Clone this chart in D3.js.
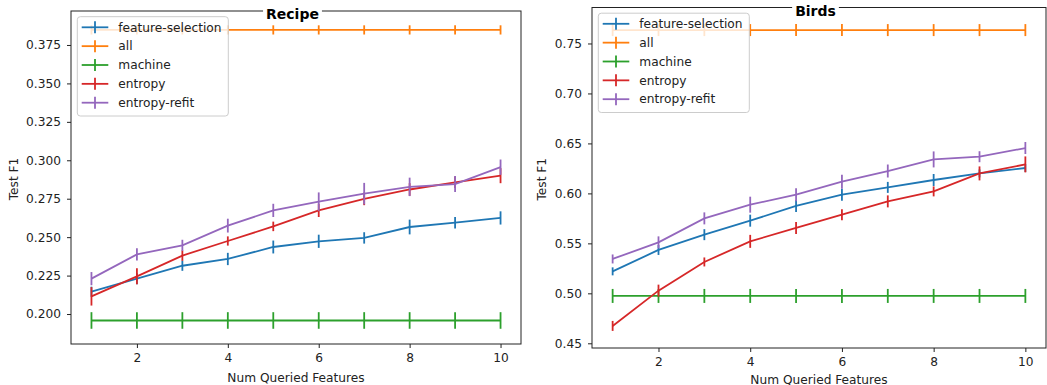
<html>
<body style="margin:0;background:#fff">
<meta charset="utf-8">
<script src="https://d3js.org/d3.v7.min.js"></script>
<div id="chart"></div>
<script>
// x values shared by both panels
var queried = [1, 2, 3, 4, 5, 6, 7, 8, 9, 10];
var seriesNames = ["feature-selection", "all", "machine", "entropy", "entropy-refit"];
var colors = ["#1f77b4", "#ff7f0e", "#2ca02c", "#d62728", "#9467bd"];

// Recipe panel
var recipeFeatSel    = [0.2145, 0.2230, 0.2314, 0.2358, 0.2436, 0.2473, 0.2495, 0.2566, 0.2594, 0.2625];
var recipeFeatSelErr = [0.0033, 0.0036, 0.0033, 0.0040, 0.0042, 0.0043, 0.0037, 0.0048, 0.0037, 0.0043];
var recipeAll        = [0.3848, 0.3848, 0.3848, 0.3848, 0.3848, 0.3848, 0.3848, 0.3848, 0.3848, 0.3848];
var recipeAllErr     = [0.003, 0.003, 0.003, 0.003, 0.003, 0.003, 0.003, 0.003, 0.003, 0.003];
var recipeMachine    = [0.1958, 0.1958, 0.1958, 0.1958, 0.1958, 0.1958, 0.1958, 0.1958, 0.1958, 0.1958];
var recipeMachineErr = [0.0054, 0.0054, 0.0054, 0.0054, 0.0054, 0.0054, 0.0054, 0.0054, 0.0054, 0.0054];
var recipeEntropy    = [0.2115, 0.2245, 0.2380, 0.2475, 0.2570, 0.2674, 0.2749, 0.2810, 0.2857, 0.2900];
var recipeEntropyErr = [0.0060, 0.0052, 0.0034, 0.0030, 0.0031, 0.0043, 0.0041, 0.0041, 0.0038, 0.0049];
var recipeRefit      = [0.2230, 0.2388, 0.2447, 0.2575, 0.2674, 0.2731, 0.2783, 0.2827, 0.2845, 0.2955];
var recipeRefitErr   = [0.0043, 0.0040, 0.0036, 0.0045, 0.0043, 0.0060, 0.0070, 0.0060, 0.0052, 0.0050];
var recipeTicks = [0.200, 0.225, 0.250, 0.275, 0.300, 0.325, 0.350, 0.375];

// Birds panel
var birdsFeatSel    = [0.5220, 0.5434, 0.5587, 0.5727, 0.5874, 0.5987, 0.6060, 0.6134, 0.6200, 0.6254];
var birdsFeatSelErr = [0.0040, 0.0050, 0.0055, 0.0060, 0.0060, 0.0060, 0.0055, 0.0060, 0.0040, 0.0040];
var birdsAll        = [0.7634, 0.7634, 0.7634, 0.7634, 0.7634, 0.7634, 0.7634, 0.7634, 0.7634, 0.7634];
var birdsAllErr     = [0.006, 0.006, 0.006, 0.006, 0.006, 0.006, 0.006, 0.006, 0.006, 0.006];
var birdsMachine    = [0.4974, 0.4974, 0.4974, 0.4974, 0.4974, 0.4974, 0.4974, 0.4974, 0.4974, 0.4974];
var birdsMachineErr = [0.007, 0.007, 0.007, 0.007, 0.007, 0.007, 0.007, 0.007, 0.007, 0.007];
var birdsEntropy    = [0.4674, 0.5027, 0.5314, 0.5520, 0.5654, 0.5787, 0.5920, 0.6020, 0.6200, 0.6290];
var birdsEntropyErr = [0.0050, 0.0060, 0.0045, 0.0065, 0.0060, 0.0055, 0.0060, 0.0050, 0.0070, 0.0080];
var birdsRefit      = [0.5344, 0.5510, 0.5750, 0.5887, 0.5987, 0.6117, 0.6224, 0.6340, 0.6367, 0.6454];
var birdsRefitErr   = [0.0045, 0.0060, 0.0060, 0.0080, 0.0065, 0.0070, 0.0065, 0.0080, 0.0055, 0.0060];
var birdsTicks = [0.45, 0.50, 0.55, 0.60, 0.65, 0.70, 0.75];

var xTicks = [2, 4, 6, 8, 10];

var svg = d3.select("#chart").append("svg")
    .attr("width", 1047)
    .attr("height", 385)
    .style("font-family", "DejaVu Sans")
    .style("display", "block");

var panels = [
  {title: "Recipe", left: 71, right: 521, top: 11, bottom: 344, ydom: [0.1805, 0.3971],
   yticks: recipeTicks, fmt: d3.format(".3f"), ylabelX: 18, xlabelDy: 37.5,
   values: [recipeFeatSel, recipeAll, recipeMachine, recipeEntropy, recipeRefit],
   errors: [recipeFeatSelErr, recipeAllErr, recipeMachineErr, recipeEntropyErr, recipeRefitErr]},
  {title: "Birds", left: 592, right: 1046, top: 7.5, bottom: 348, ydom: [0.4453, 0.786],
   yticks: birdsTicks, fmt: d3.format(".2f"), ylabelX: 546, xlabelDy: 35.5,
   values: [birdsFeatSel, birdsAll, birdsMachine, birdsEntropy, birdsRefit],
   errors: [birdsFeatSelErr, birdsAllErr, birdsMachineErr, birdsEntropyErr, birdsRefitErr]}
];

panels.forEach(function(p) {
  var x = d3.scaleLinear().domain([0.55, 10.45]).range([p.left, p.right]);
  var y = d3.scaleLinear().domain(p.ydom).range([p.bottom, p.top]);
  var g = svg.append("g");

  // axes
  var ya = g.append("g")
      .attr("transform", "translate(" + p.left + ",0)")
      .call(d3.axisLeft(y).tickValues(p.yticks).tickFormat(p.fmt).tickSize(4).tickPadding(6));
  var xa = g.append("g")
      .attr("transform", "translate(0," + p.bottom + ")")
      .call(d3.axisBottom(x).tickValues(xTicks).tickFormat(d3.format("d")).tickSize(4).tickPadding(5));
  [ya, xa].forEach(function(a) {
    a.select(".domain").remove();
    a.selectAll("line").attr("stroke", "#222");
    a.selectAll("text").attr("fill", "#222").style("font-size", "12.2px").style("font-family", "DejaVu Sans");
  });

  // series: error bars then line
  p.values.forEach(function(vals, i) {
    var errs = p.errors[i];
    var s = g.append("g");
    s.selectAll("line.err")
      .data(queried)
      .enter().append("line")
        .attr("class", "err")
        .attr("x1", function(d) { return x(d); })
        .attr("x2", function(d) { return x(d); })
        .attr("y1", function(d, j) { return y(vals[j] - errs[j]); })
        .attr("y2", function(d, j) { return y(vals[j] + errs[j]); })
        .attr("stroke", colors[i])
        .attr("stroke-width", 1.8);
    s.append("path")
      .datum(queried)
      .attr("fill", "none")
      .attr("stroke", colors[i])
      .attr("stroke-width", 1.8)
      .attr("d", d3.line().x(function(d) { return x(d); }).y(function(d, j) { return y(vals[j]); }));
  });

  // frame
  g.append("rect")
    .attr("x", p.left).attr("y", p.top)
    .attr("width", p.right - p.left).attr("height", p.bottom - p.top)
    .attr("fill", "none").attr("stroke", "#222").attr("stroke-width", 1);

  // legend
  var lg = g.append("g").attr("transform", "translate(" + (p.left + 6.3) + "," + (p.top + 5.7) + ")");
  lg.append("rect")
    .attr("width", 151).attr("height", 99.3).attr("rx", 3)
    .attr("fill", "#fff").attr("fill-opacity", 0.8)
    .attr("stroke", "#ccc").attr("stroke-width", 1);
  seriesNames.forEach(function(name, i) {
    var cy = 10.6 + i * 18.85;
    lg.append("line").attr("x1", 4.4).attr("x2", 31).attr("y1", cy).attr("y2", cy)
      .attr("stroke", colors[i]).attr("stroke-width", 1.8);
    lg.append("line").attr("x1", 17.7).attr("x2", 17.7).attr("y1", cy - 6).attr("y2", cy + 6)
      .attr("stroke", colors[i]).attr("stroke-width", 1.8);
    lg.append("text").attr("x", 41).attr("y", cy + 4.3)
      .style("font-size", "12.2px").attr("fill", "#222").text(name);
  });

  // axis labels
  g.append("text")
    .attr("x", (p.left + p.right) / 2).attr("y", p.bottom + p.xlabelDy)
    .attr("text-anchor", "middle").style("font-size", "12.2px").attr("fill", "#222")
    .text("Num Queried Features");
  g.append("text")
    .attr("transform", "translate(" + p.ylabelX + "," + ((p.top + p.bottom) / 2 + 1.5) + ") rotate(-90)")
    .attr("text-anchor", "middle").style("font-size", "12.2px").attr("fill", "#222")
    .text("Test F1");

  // title with white box over the top spine
  var tg = g.append("g");
  var tt = tg.append("text")
    .attr("x", (p.left + p.right) / 2 - 3.5).attr("y", p.top + 8)
    .attr("text-anchor", "middle")
    .style("font-size", "14px").style("font-weight", "bold").attr("fill", "#000")
    .text(p.title);
  var bb = tt.node().getBBox();
  tg.insert("rect", "text")
    .attr("x", bb.x - 3).attr("y", bb.y - 1)
    .attr("width", bb.width + 6).attr("height", bb.height + 1)
    .attr("fill", "#fff");
});
</script>
</body>
</html>
